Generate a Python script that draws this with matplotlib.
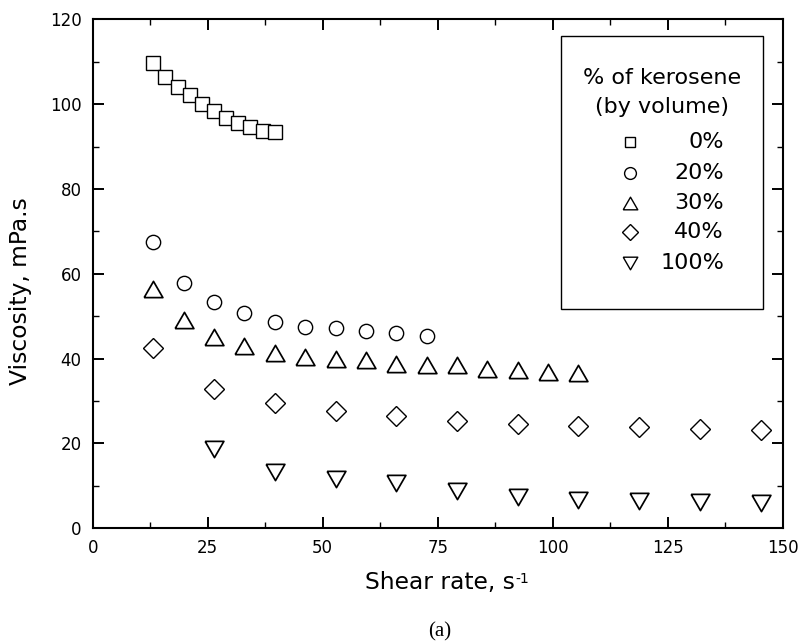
import matplotlib.pyplot as plt
from matplotlib.patches import Rectangle
from matplotlib.ticker import MultipleLocator

plt.rcParams['font.family'] = ['DejaVu Sans']

# shear rate (1/s) and viscosity (mPa.s) per kerosene fraction
x_0 = [13.2, 15.8, 18.5, 21.1, 23.8, 26.4, 29.0, 31.7, 34.3, 37.0, 39.6]
y_0 = [109.7, 106.4, 104.0, 102.1, 100.1, 98.3, 96.8, 95.6, 94.6, 93.8, 93.5]

x_20 = [13.2, 19.8, 26.4, 33.0, 39.6, 46.2, 52.8, 59.4, 66.0, 72.6]
y_20 = [67.6, 57.9, 53.4, 50.7, 48.7, 47.4, 47.3, 46.6, 46.0, 45.4]

x_30 = [13.2, 19.8, 26.4, 33.0, 39.6, 46.2, 52.8, 59.4, 66.0, 72.6,
        79.2, 85.8, 92.4, 99.0, 105.6]
y_30 = [56.4, 49.1, 45.2, 43.0, 41.3, 40.3, 40.0, 39.8, 38.8, 38.4,
        38.4, 37.6, 37.3, 36.9, 36.6]

x_40 = [13.2, 26.4, 39.6, 52.8, 66.0, 79.2, 92.4, 105.6, 118.8, 132.0, 145.2]
y_40 = [42.5, 32.8, 29.6, 27.7, 26.5, 25.4, 24.7, 24.2, 23.8, 23.4, 23.1]

x_100 = [26.4, 39.6, 52.8, 66.0, 79.2, 92.4, 105.6, 118.8, 132.0, 145.2]
y_100 = [18.6, 13.3, 11.7, 10.6, 8.9, 7.3, 6.7, 6.5, 6.1, 6.0]

labels = ['0%', '20%', '30%', '40%', '100%']

tri_up = [(-1, -0.866), (1, -0.866), (0, 0.866), (-1, -0.866)]
tri_down = [(-1, 0.866), (1, 0.866), (0, -0.866), (-1, 0.866)]

series = [
    (x_0, y_0, 's', 10.3, 1.0),
    (x_20, y_20, 'o', 10.3, 1.0),
    (x_30, y_30, tri_up, 13.5, 1.25),
    (x_40, y_40, 'D', 10.0, 1.0),
    (x_100, y_100, tri_down, 13.5, 1.25),
]

fig = plt.figure(figsize=(8.01, 6.43), dpi=100)
ax = fig.add_axes([0.1157, 0.1784, 0.8614, 0.7913])

for xs, ys, m, ms, mew in series:
    ax.plot(xs, ys, linestyle='none', marker=m, markersize=ms,
            markerfacecolor='white', markeredgecolor='black',
            markeredgewidth=mew)

ax.set_xlim(0, 150)
ax.set_ylim(0, 120)
ax.xaxis.set_major_locator(MultipleLocator(25))
ax.xaxis.set_minor_locator(MultipleLocator(12.5))
ax.yaxis.set_major_locator(MultipleLocator(20))
ax.yaxis.set_minor_locator(MultipleLocator(10))
ax.tick_params(which='both', direction='in', top=True, right=True, width=1.4)
ax.tick_params(which='major', length=8, labelsize=12)
ax.tick_params(axis='x', which='major', pad=8)
ax.tick_params(axis='y', which='major', pad=8)
ax.tick_params(which='minor', length=4, width=1.0)
for sp in ax.spines.values():
    sp.set_linewidth(1.5)

ax.set_ylabel('Viscosity, mPa.s', fontsize=16.8)
ax.yaxis.set_label_coords(-0.0875, 0.467)

# x label with a plain hyphen in the exponent
xl = fig.text(0.549, 0.0835, 'Shear rate, s', ha='center', va='baseline',
              fontsize=16.8)
fig.canvas.draw()
bb = xl.get_window_extent()
fig.text((bb.x1 + 1) / 801, 0.0933, '-1', ha='left', va='baseline',
         fontsize=10)

# legend box drawn by hand
ax.add_patch(Rectangle((0.6787, 0.431), 0.2932, 0.5372, transform=ax.transAxes,
                       facecolor='white', edgecolor='black', linewidth=1.0,
                       zorder=5))
ax.text(0.8255, 0.885, '% of kerosene', transform=ax.transAxes, ha='center',
        va='center', fontsize=16, zorder=6)
ax.text(0.8255, 0.8286, '(by volume)', transform=ax.transAxes, ha='center',
        va='center', fontsize=16, zorder=6)
leg_y = [0.7598, 0.6977, 0.640, 0.583, 0.522]
leg_ms = [7.5, 8.5, 10.5, 8.0, 10.5]
for (xs, ys, m, ms, mew), lab, ly, lms in zip(series, labels, leg_y, leg_ms):
    ax.plot([0.7790], [ly], transform=ax.transAxes, linestyle='none', marker=m,
            markersize=lms, markerfacecolor='white', markeredgecolor='black',
            markeredgewidth=1.0, clip_on=False, zorder=6)
    ax.text(0.9150, ly, lab, transform=ax.transAxes, ha='right', va='center',
            fontsize=16, zorder=6)

fig.text(0.549, 0.002, '(a)', ha='center', va='bottom', fontsize=15,
         family=['Liberation Serif', 'DejaVu Serif'])

fig.savefig('out.png', dpi=100)
